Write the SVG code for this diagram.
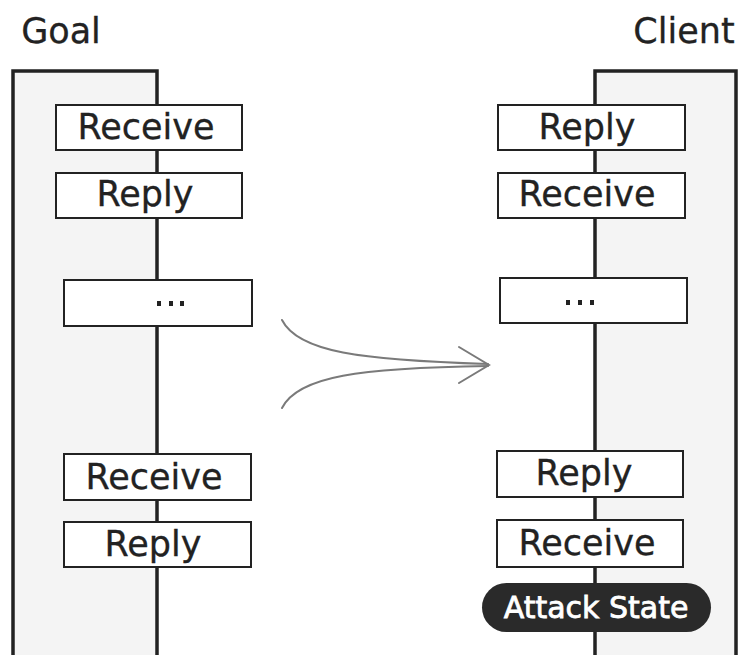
<svg xmlns="http://www.w3.org/2000/svg" width="742" height="655" viewBox="0 0 742 655">
  <style>
    .lane { fill: #f4f4f4; stroke: #222; stroke-width: 3.5; }
    .box rect { fill: #fff; stroke: #222; stroke-width: 2; }
    .box rect.dots { fill: #222; stroke: none; }
    .box text, .title { font-family: "DejaVu Sans", "Noto Sans", sans-serif; fill: #222; text-anchor: middle; }
    .box text { font-size: 35px; stroke: #222; stroke-width: 0.3; }
    .title { font-size: 35px; stroke: #222; stroke-width: 0.3; }
    .state rect { fill: #2a2a2a; }
    .state text { font-family: "DejaVu Sans", "Noto Sans", sans-serif; font-size: 30px; fill: #fff; stroke: #fff; stroke-width: 0.8; text-anchor: middle; }
    .flow { fill: none; stroke: #7a7a7a; stroke-width: 2; stroke-linecap: round; }
  </style>

  <rect width="742" height="655" fill="#fff"/>

  <!-- swimlanes -->
  <g id="goal-lane">
    <path class="lane" d="M13,656 V71 H157 V656"/>
    <text class="title" x="61" y="43">Goal</text>
  </g>
  <g id="client-lane">
    <path class="lane" d="M595,656 V71 H736 V656"/>
    <text class="title" x="684" y="43">Client</text>
  </g>

  <!-- goal steps -->
  <g id="goal-receive-1" class="box">
    <rect x="56" y="105" width="186" height="45"/>
    <text x="146" y="139">Receive</text>
  </g>
  <g id="goal-reply-1" class="box">
    <rect x="56" y="173" width="186" height="45"/>
    <text x="145" y="206">Reply</text>
  </g>
  <g id="goal-ellipsis" class="box">
    <rect x="64" y="280" width="188" height="46"/>
    <rect class="dots" x="157" y="301" width="4" height="5"/>
    <rect class="dots" x="169" y="301" width="4" height="5"/>
    <rect class="dots" x="180" y="301" width="4" height="5"/>
  </g>
  <g id="goal-receive-2" class="box">
    <rect x="64" y="454" width="187" height="46"/>
    <text x="154" y="489">Receive</text>
  </g>
  <g id="goal-reply-2" class="box">
    <rect x="64" y="522" width="187" height="45"/>
    <text x="153" y="556">Reply</text>
  </g>

  <!-- client steps -->
  <g id="client-reply-1" class="box">
    <rect x="498" y="105" width="187" height="45"/>
    <text x="587" y="139">Reply</text>
  </g>
  <g id="client-receive-1" class="box">
    <rect x="498" y="173" width="187" height="45"/>
    <text x="587" y="206">Receive</text>
  </g>
  <g id="client-ellipsis" class="box">
    <rect x="500" y="278" width="187" height="45"/>
    <rect class="dots" x="566" y="300" width="4" height="5"/>
    <rect class="dots" x="578" y="300" width="4" height="5"/>
    <rect class="dots" x="590" y="300" width="4" height="5"/>
  </g>
  <g id="client-reply-2" class="box">
    <rect x="497" y="451" width="186" height="46"/>
    <text x="584" y="485">Reply</text>
  </g>
  <g id="client-receive-2" class="box">
    <rect x="497" y="520" width="186" height="47"/>
    <text x="587" y="555">Receive</text>
  </g>
  <g id="attack-state" class="state">
    <rect x="482" y="583" width="229" height="49" rx="24.5"/>
    <text x="596" y="618">Attack State</text>
  </g>

  <!-- merging arrow between lanes -->
  <g id="connectors">
    <path class="flow" d="M282,320 C298,352 360,360 488,364"/>
    <path class="flow" d="M282,408 C298,376 360,368 488,366"/>
    <path class="flow" d="M459,347 L489,365 L459,383"/>
  </g>
</svg>
